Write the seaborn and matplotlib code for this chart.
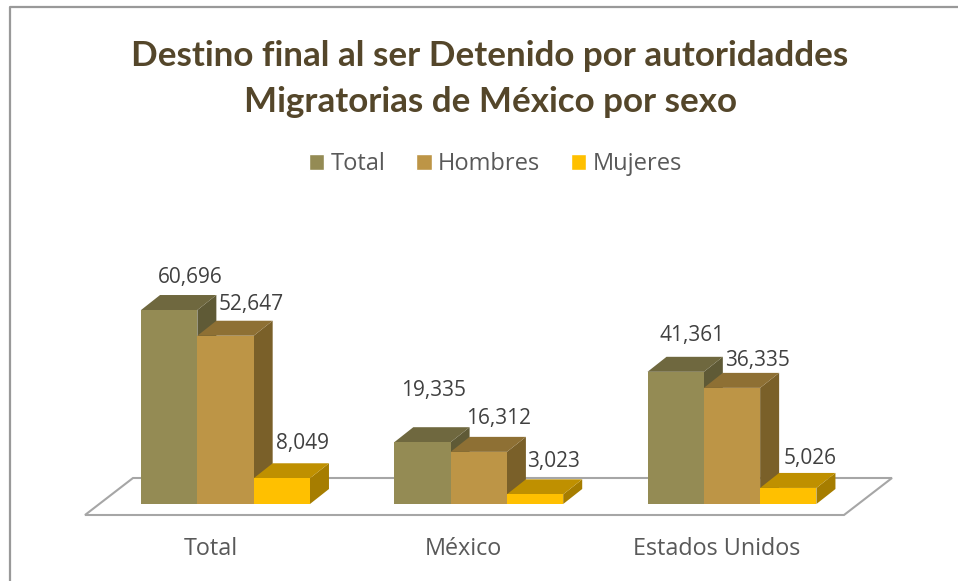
import matplotlib
matplotlib.use('Agg')
import matplotlib.pyplot as plt
import pandas as pd
import seaborn as sns
from matplotlib.patches import Patch, Polygon
from matplotlib.transforms import ScaledTranslation

categories = ['Total', 'México', 'Estados Unidos']
series = ['Total', 'Hombres', 'Mujeres']
total_vals = [60696, 19335, 41361]
hombres_vals = [52647, 16312, 36335]
mujeres_vals = [8049, 3023, 5026]

W, H = 958, 581
front_colors = ['#948B54', '#BD9546', '#FFC000']
top_colors = ['#6F683F', '#8E7034', '#BF9000']
side_colors = ['#5F5A36', '#7A6029', '#A67D00']
TEXT = '#595959'
DEPTH_X, DEPTH_Y = 19, 15  # px

# label offsets in px from top centre of each bar (series by series)
label_offsets = [(21, 33), (11, 52), (16, 36),
                 (26, 31), (20, 33), (26, 27),
                 (21, 35), (18, 33), (22, 29)]


def fx(px):
    return px / W


def fy(px):
    return 1 - px / H


df = pd.DataFrame({
    'category': categories * 3,
    'series': [s for s in series for _ in categories],
    'value': total_vals + hombres_vals + mujeres_vals,
})

sns.set_theme(style='white')
plt.rcParams['font.family'] = ['Lato', 'DejaVu Sans']

fig = plt.figure(figsize=(W / 100, H / 100), dpi=100)
ax = fig.add_axes([fx(98.9), fy(504), fx(858.6) - fx(98.9), fy(250) - fy(504)])
ax.patch.set_alpha(0)

sns.barplot(data=df, x='category', y='value', hue='series', order=categories,
            hue_order=series, palette=front_colors, width=0.667, gap=0,
            saturation=1, legend=False, linewidth=0, edgecolor='none', ax=ax)
ax.set_xlim(-0.5, 2.5)
ax.set_ylim(0, 254 / 0.003196)
ax.set_xlabel('')
ax.set_ylabel('')
ax.set_yticks([])
sns.despine(ax=ax, left=True, bottom=True)
ax.tick_params(axis='x', length=0, pad=24, labelsize=16.8, labelcolor=TEXT)
shift = ScaledTranslation(-15 / 100, 0, fig.dpi_scale_trans)
for lab in ax.get_xticklabels():
    lab.set_family(['Open Sans', 'DejaVu Sans'])
    lab.set_transform(lab.get_transform() + shift)

# floor of the chart
fig.add_artist(Polygon(
    [(fx(85), fy(515)), (fx(133), fy(478)), (fx(892), fy(478)), (fx(844), fy(515))],
    closed=True, transform=fig.transFigure, facecolor='white',
    edgecolor='#A6A6A6', linewidth=1.5, zorder=0.5))
ax.set_zorder(1)

# outer frame, open at the bottom
fig.add_artist(plt.Line2D([fx(10), fx(10), fx(958)], [fy(581), fy(7), fy(7)],
                          color='#999999', linewidth=1.6))

# depth faces on each bar
dx = DEPTH_X / (858.6 - 98.9) * 3
dy = DEPTH_Y / 0.003196
bars = [p for c in ax.containers for p in c]
for i, bar in enumerate(bars):
    s = i // 3
    x0, x1 = bar.get_x(), bar.get_x() + bar.get_width()
    top = bar.get_height()
    z = 2 + bar.get_x() * 3 + s
    bar.set_zorder(z + 0.2)
    ax.add_patch(Polygon([(x1, 0), (x1 + dx, dy), (x1 + dx, top + dy), (x1, top)],
                         facecolor=side_colors[s], edgecolor='none',
                         clip_on=False, zorder=z))
    ax.add_patch(Polygon([(x0, top), (x0 + dx, top + dy), (x1 + dx, top + dy), (x1, top)],
                         facecolor=top_colors[s], edgecolor='none',
                         clip_on=False, zorder=z + 0.1))
    off = label_offsets[i]
    ax.annotate(f'{top:,.0f}', ((x0 + x1) / 2, top),
                xytext=(off[0] * 0.72, off[1] * 0.72),
                textcoords='offset points', ha='center', va='center',
                fontsize=15, color='#404040', family=['Open Sans', 'DejaVu Sans'],
                annotation_clip=False, zorder=50)

fig.text(fx(490), fy(79), 'Destino final al ser Detenido por autoridaddes\nMigratorias de México por sexo',
         ha='center', va='center', fontsize=25.2, fontweight='bold',
         color='#54462A', linespacing=1.5)

handles = [Patch(facecolor=c, label=s) for c, s in zip(front_colors, series)]
fig.legend(handles=handles, loc='center', bbox_to_anchor=(fx(495.5), fy(164)), ncol=3,
           frameon=False, handlelength=0.65, handleheight=0.65, handletextpad=0.27,
           columnspacing=1.3, prop={'family': ['Open Sans', 'DejaVu Sans'], 'size': 17},
           labelcolor=TEXT)

fig.savefig('out.png', dpi=100)
